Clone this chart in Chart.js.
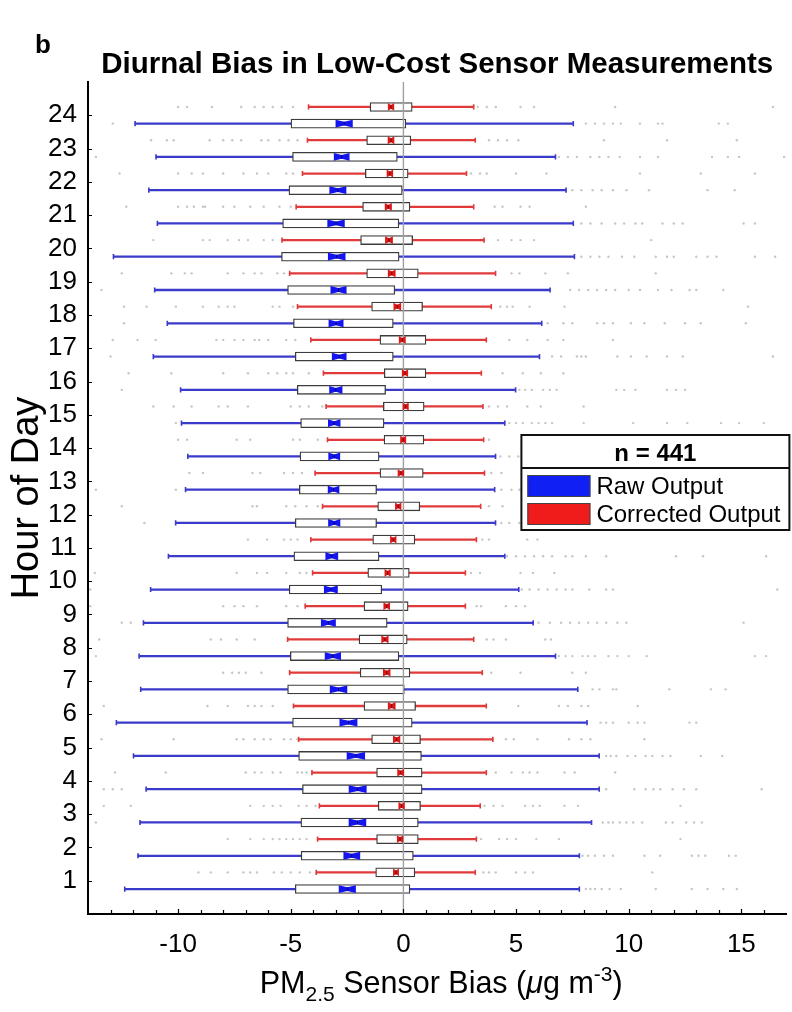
<!DOCTYPE html>
<html>
<head>
<meta charset="utf-8">
<title>Diurnal Bias in Low-Cost Sensor Measurements</title>
<script src="https://cdn.jsdelivr.net/npm/chart.js@4.4.1/dist/chart.umd.min.js"></script>
<style>
  html, body { margin: 0; padding: 0; background: #fff; }
  #wrap { width: 792px; height: 1012px; position: relative; }
</style>
</head>
<body>
<div id="wrap"><canvas id="chart" width="792" height="1012"></canvas></div>
<script>
// Hour of day (1..24)
const hours = [1,2,3,4,5,6,7,8,9,10,11,12,13,14,15,16,17,18,19,20,21,22,23,24];

// Raw sensor output: whisker ends, quartiles and median (µg m-3)
const rawLow    = [-12.37,-11.78,-11.69,-11.42,-11.98,-12.74,-11.66,-11.73,-11.54,-11.22,-10.43,-10.11,-9.67,-9.57,-9.85,-9.89,-11.10,-10.48,-11.04,-12.87,-10.92,-11.30,-10.98,-11.91];
const rawQ1     = [-4.80,-4.54,-4.55,-4.48,-4.65,-4.92,-5.14,-5.02,-5.14,-5.07,-4.86,-4.80,-4.62,-4.59,-4.56,-4.71,-4.80,-4.88,-5.14,-5.41,-5.36,-5.08,-4.92,-4.99];
const rawMedian = [-2.49,-2.29,-2.04,-2.03,-2.11,-2.44,-2.88,-3.13,-3.33,-3.22,-3.18,-3.07,-3.10,-3.07,-3.07,-3.00,-2.85,-2.99,-2.88,-2.96,-2.99,-2.91,-2.74,-2.63];
const rawQ3     = [0.29,0.44,0.66,0.83,0.80,0.39,0.04,-0.20,-0.72,-0.96,-1.08,-1.19,-1.19,-1.08,-0.86,-0.79,-0.45,-0.45,-0.38,-0.19,-0.20,-0.05,-0.27,0.11];
const rawHigh   = [7.81,7.81,8.35,8.69,8.69,8.15,7.74,6.75,5.76,5.12,4.50,4.09,4.05,4.09,4.50,4.98,6.04,6.14,6.51,7.59,7.54,7.22,6.75,7.54];

// Corrected output
const corLow    = [-3.87,-3.81,-3.73,-4.06,-4.65,-4.88,-5.05,-5.14,-4.36,-4.03,-4.11,-3.59,-3.92,-3.37,-3.43,-3.55,-4.11,-4.70,-5.05,-5.39,-4.76,-4.48,-4.26,-4.21];
const corQ1     = [-1.23,-1.19,-1.12,-1.19,-1.41,-1.75,-1.92,-1.97,-1.75,-1.58,-1.36,-1.14,-1.04,-0.86,-0.89,-0.85,-1.04,-1.41,-1.63,-1.90,-1.81,-1.69,-1.63,-1.48];
const corMedian = [-0.33,-0.15,-0.08,-0.12,-0.30,-0.52,-0.74,-0.82,-0.74,-0.70,-0.45,-0.23,-0.11,-0.01,0.10,0.07,-0.05,-0.27,-0.52,-0.64,-0.67,-0.60,-0.55,-0.55];
const corQ3     = [0.51,0.66,0.76,0.83,0.76,0.54,0.29,0.17,0.21,0.26,0.51,0.73,0.88,0.91,0.92,1.00,1.00,0.85,0.66,0.41,0.29,0.21,0.33,0.39];
const corHigh   = [3.19,3.24,3.41,3.68,3.97,3.68,3.50,3.12,2.75,2.75,3.24,3.43,3.60,3.56,3.53,3.46,3.68,3.90,4.09,3.58,3.12,2.80,3.19,3.12];

// Points beyond the whiskers, one list per hour
const rawOutliers = [
  [8.1,8.3,8.5,8.8,9.15,9.65,11.2,12.8,13.5,14.2,14.8],
  [7.95,8.2,8.5,8.9,9.3,10.7,11.4,12.8,13.1,13.4,14.45,14.75],
  [-13.65,8.85,9.1,9.3,9.6,9.9,10.2,10.6,11.65,11.95,12.55,12.9,13.25],
  [-13.3,-12.9,-12.5,9.0,10.25,10.75,11.1,11.4,11.95,12.45,13.0,15.9],
  [9.0,9.2,9.45,9.95,10.3,10.75,11.05,11.5,11.85,13.2,14.15],
  [8.75,9.0,9.3,10.0,10.4,10.7,12.7,13.0],
  [8.4,8.7,9.3,9.45,11.8,13.65,14.3],
  [-13.65,6.9,7.2,7.5,7.95,8.2,8.5,9.1,9.5,10.0,10.8,15.6,16.1],
  [-12.5,-12.1,6.0,6.5,7.0,7.4,7.8,8.2,8.6,9.0,9.5,9.9,15.1],
  [-13.9,5.25,5.6,6.0,6.4,6.8,7.2,7.5,8.25,9.0,9.3,16.6],
  [4.6,5.0,5.4,5.8,6.2,6.6,7.2,7.5,8.1,9.0,12.1,13.3,16.1],
  [-11.5,4.35,4.7,5.15],
  [-13.65,-10.1,4.35,4.8,5.15],
  [4.3,4.7,5.1],
  [-10.1,4.7,5.0,5.3,5.7,6.0,6.3,6.6,8.0,10.2,11.7,12.6,14.1,14.9,16.0],
  [-12.5,5.15,5.4,5.7,6.2,6.5,6.8,9.45,9.8,10.3,11.7,12.1,12.5],
  [-13.0,6.6,7.0,7.7,7.9,8.1,9.5,10.1,10.8,11.7,12.4,16.4],
  [-12.4,6.4,7.1,7.5,8.6,8.9,9.3,10.1,10.7,11.6,12.5,13.2,15.2],
  [-13.4,7.4,7.8,8.2,8.6,9.0,9.4,10.0,10.5,11.3,11.9,12.7,13.0,14.2],
  [7.9,8.3,8.7,9.1,9.7,10.25,11.2,11.7,12.0,13.0,13.5,13.9,15.6,16.5],
  [7.9,8.3,8.8,9.4,9.8,10.3,10.6,11.5,12.0,12.4,15.1,15.6],
  [7.5,7.9,8.4,8.8,9.3,9.9,10.9,13.5,14.7],
  [-13.65,6.9,7.3,7.7,8.3,8.7,9.1,9.6,10.5,11.3,13.7,14.4,14.9,16.9],
  [-12.9,8.1,8.5,8.9,9.3,9.65,10.5,11.3,11.5,14.0,14.4]
];
const corOutliers = [
  [-9.1,-8.55,-7.8,-7.1,-6.8,-6.5,-5.75,-5.4,-5.0,-4.6,-4.15,3.55,3.8,4.1,5.0,5.4,5.75,11.05],
  [-7.8,-6.8,-6.2,-5.8,-5.5,-5.2,-4.9,-4.6,-4.3,3.45,4.25,4.6,5.0,5.9,6.9,12.3],
  [-13.3,-12.1,-6.8,-6.2,-5.8,-5.45,-4.65,-4.3,-3.9,3.6,4.0,4.4,5.4,5.75,6.05,7.15,7.75,12.3],
  [-12.8,-10.55,-7.0,-6.6,-6.3,-5.8,-5.45,-4.7,-4.5,-4.3,4.1,4.8,5.3,5.6,5.95,7.15,7.6,9.4],
  [-13.4,-10.2,-7.4,-7.1,-6.6,-6.2,-5.9,-5.3,-5.0,-4.7,4.55,4.9,5.95,7.35,7.9,8.3,10.7],
  [-13.3,-8.7,-7.8,-6.9,-6.6,-6.3,-5.8,5.1,6.9,7.3,7.9,8.2,10.4],
  [-8.0,-7.6,-7.3,-7.0,-6.3,3.9,5.2,7.5,8.1],
  [-13.5,-8.55,-8.1,-7.4,-6.6,3.7,4.0,4.55,6.3,6.55],
  [-13.9,-8.0,-7.5,-7.1,-6.5,-5.2,-4.7,3.25,3.45,4.55,5.0,5.4],
  [-13.7,-7.4,-6.5,-6.05,-5.2,-4.6,-4.3,3.0,3.4,5.2,5.75,6.7],
  [-6.9,-6.05,-5.3,-5.0,-4.7,3.5,3.8,5.5,5.95],
  [-12.5,-6.7,-6.5,-5.2,-4.8,-4.3,-3.8,3.8,4.4],
  [-9.5,-8.9,-6.7,-6.35,-5.3,-4.9,-4.5,3.9,4.35],
  [-10.0,-9.6,-7.4,-6.8,-4.9,-4.6,-3.8,3.8],
  [-11.1,-10.2,-9.4,-8.2,-7.8,-6.9,-5.0,-4.6,-4.2,-3.6,3.8,4.2,4.6,5.5,6.1,8.0],
  [-12.2,-10.3,-8.0,-6.9,-6.0,-5.6,-5.2,-4.9,-4.2,4.4,5.3,6.1,7.1],
  [-12.9,-11.8,-11.0,-8.3,-8.0,-7.5,-7.1,-6.6,-6.4,-6.0,-5.2,-4.8,4.7,5.5,6.4,7.1,9.3],
  [-12.4,-11.4,-10.1,-8.9,-8.2,-7.8,-7.5,-5.8,-5.5,-4.9,4.3,4.6,4.85,5.6,7.15,15.3],
  [-12.5,-10.3,-9.7,-9.4,-7.8,-7.1,-6.6,-6.3,-5.6,-5.3,4.8,5.15,6.3,7.3,11.2],
  [-11.1,-8.9,-8.6,-7.8,-7.3,-6.9,-6.2,-5.8,4.2,4.8,5.2,5.8,11.0],
  [-12.3,-10.0,-9.6,-9.3,-8.9,-8.8,-8.0,-7.5,-6.8,-6.2,-5.5,-5.0,4.05,4.4,5.2,5.6,8.1],
  [-12.6,-10.0,-9.4,-8.9,-8.0,-7.1,-6.5,-6.0,-5.2,-4.9,3.0,3.4,3.7,5.0,6.35,10.5,13.2,15.6],
  [-11.2,-10.5,-10.2,-8.6,-8.0,-7.6,-7.2,-6.3,-6.0,-5.5,-5.1,-4.7,3.8,4.2,4.6,5.1,8.9,11.7,14.8],
  [-10.0,-9.6,-8.5,-7.2,-6.6,-6.2,-5.8,-5.4,-4.9,3.3,3.7,4.1,5.2,5.8,9.4,16.4]
];

// Axis tick labels
const xTickLabels = [-10, -5, 0, 5, 10, 15];
const yTickLabels = hours;
const sampleCount = 441;

// Drawing style
const FONT = '"Liberation Sans", Arial, Helvetica, sans-serif';
const BOX_H = 9;
const series = [
  { name: 'Raw Output', offset: -0.25, low: rawLow, q1: rawQ1, med: rawMedian, q3: rawQ3, high: rawHigh, out: rawOutliers,
    line: '#3a3acb', fill: '#1414ee', dark: '#00007a', swatch: '#1020f4' },
  { name: 'Corrected Output', offset: 0.25, low: corLow, q1: corQ1, med: corMedian, q3: corQ3, high: corHigh, out: corOutliers,
    line: '#e03a3a', fill: '#dd1818', dark: '#7a0000', swatch: '#f01c1c' }
];

// Build datasets: whiskers and boxes as floating horizontal bars, caps and outliers as points
const datasets = [];
series.forEach(s => {
  datasets.push({
    type: 'scatter', indexAxis: 'x', order: 20,
    data: s.out.flatMap((vals, i) => vals.map(v => ({ x: v, y: hours[i] + s.offset }))),
    pointStyle: 'circle', pointRadius: 1.2, pointBackgroundColor: '#c6c6c6', pointBorderWidth: 0
  });
  datasets.push({
    type: 'bar', order: 10, grouped: false, barThickness: 1.6,
    data: hours.map((h, i) => ({ y: h + s.offset, x: [s.low[i], s.high[i]] })),
    backgroundColor: s.line, borderWidth: 0
  });
  datasets.push({
    type: 'scatter', indexAxis: 'x', order: 9,
    data: hours.flatMap((h, i) => [{ x: s.low[i], y: h + s.offset }, { x: s.high[i], y: h + s.offset }]),
    pointStyle: 'line', pointRotation: 90, pointRadius: 2.6, pointBorderWidth: 1.6, pointBorderColor: s.line
  });
  datasets.push({
    type: 'bar', order: 1, grouped: false, barThickness: BOX_H,
    data: hours.map((h, i) => ({ y: h + s.offset, x: [s.q1[i], s.q3[i]] })),
    backgroundColor: '#ffffff', borderColor: '#3c3c3c', borderWidth: 1.3, borderSkipped: false
  });
});

// Zero line, notched median regions
const notchPlugin = {
  id: 'notches',
  afterDatasetsDraw(chart) {
    const { ctx, chartArea, scales: { x, y } } = chart;
    ctx.save();
    const x0 = x.getPixelForValue(0);
    ctx.strokeStyle = '#a0a0a0';
    ctx.lineWidth = 1.4;
    ctx.beginPath();
    ctx.moveTo(x0, chartArea.top);
    ctx.lineTo(x0, chartArea.bottom);
    ctx.stroke();
    series.forEach(s => {
      hours.forEach((h, i) => {
        const half = 1.57 * (s.q3[i] - s.q1[i]) / Math.sqrt(sampleCount);
        const yc = y.getPixelForValue(h + s.offset);
        const top = yc - BOX_H / 2 + 0.6, bot = yc + BOX_H / 2 - 0.6, pinch = 2;
        const xl = x.getPixelForValue(s.med[i] - half);
        const xm = x.getPixelForValue(s.med[i]);
        const xr = x.getPixelForValue(s.med[i] + half);
        ctx.fillStyle = s.fill;
        ctx.beginPath();
        ctx.moveTo(xl, top);
        ctx.lineTo(xm, top + pinch);
        ctx.lineTo(xr, top);
        ctx.lineTo(xr, bot);
        ctx.lineTo(xm, bot - pinch);
        ctx.lineTo(xl, bot);
        ctx.closePath();
        ctx.fill();
        ctx.strokeStyle = s.dark;
        ctx.lineWidth = 1;
        ctx.beginPath();
        ctx.moveTo(xm, top + pinch);
        ctx.lineTo(xm, bot - pinch);
        ctx.stroke();
      });
    });
    ctx.restore();
  }
};

// Inward tick marks, titles, panel letter and legend box
const decorPlugin = {
  id: 'decor',
  afterDraw(chart) {
    const { ctx, chartArea, scales: { x, y } } = chart;
    ctx.save();
    ctx.strokeStyle = '#000';
    ctx.lineWidth = 1.2;
    ctx.beginPath();
    x.ticks.forEach(t => {
      if (t.value <= x.min || t.value >= x.max) return;
      const px = Math.round(x.getPixelForValue(t.value)) + 0.5;
      const len = xTickLabels.includes(t.value) ? 5 : 4;
      ctx.moveTo(px, chartArea.bottom);
      ctx.lineTo(px, chartArea.bottom - len);
    });
    yTickLabels.forEach(v => {
      const py = Math.round(y.getPixelForValue(v)) + 0.5;
      ctx.moveTo(chartArea.left, py);
      ctx.lineTo(chartArea.left + 4, py);
    });
    ctx.stroke();

    // Title and panel letter
    ctx.fillStyle = '#000';
    ctx.textBaseline = 'alphabetic';
    ctx.textAlign = 'center';
    ctx.font = 'bold 29.5px ' + FONT;
    ctx.fillText('Diurnal Bias in Low-Cost Sensor Measurements', (chartArea.left + chartArea.right) / 2, chartArea.top - 9);
    ctx.textAlign = 'left';
    ctx.font = 'bold 26px ' + FONT;
    ctx.fillText('b', 35, 53);

    // X axis title with subscript and superscript
    const big = '30.5px ' + FONT, small = '21px ' + FONT;
    const parts = [
      { t: 'PM', f: big, dy: 0 },
      { t: '2.5', f: small, dy: 8 },
      { t: ' Sensor Bias (', f: big, dy: 0 },
      { t: 'μ', f: 'italic ' + big, dy: 0 },
      { t: 'g m', f: big, dy: 0 },
      { t: '-3', f: small, dy: -12 },
      { t: ')', f: big, dy: 0 }
    ];
    let total = 0;
    parts.forEach(p => { ctx.font = p.f; p.w = ctx.measureText(p.t).width; total += p.w; });
    let cx = (chartArea.left + chartArea.right) / 2 - total / 2 + 4;
    const base = chartArea.bottom + 79;
    parts.forEach(p => { ctx.font = p.f; ctx.fillText(p.t, cx, base + p.dy); cx += p.w; });

    // Legend
    const W = 268, H = 95;
    const L = chartArea.right + 3 - W, T = chartArea.top + 353;
    ctx.fillStyle = '#fff';
    ctx.fillRect(L, T, W, H);
    ctx.strokeStyle = '#111';
    ctx.lineWidth = 2;
    ctx.strokeRect(L, T, W, H);
    ctx.beginPath();
    ctx.moveTo(L, T + 33);
    ctx.lineTo(L + W, T + 33);
    ctx.stroke();
    ctx.fillStyle = '#000';
    ctx.textAlign = 'center';
    ctx.font = 'bold 24px ' + FONT;
    ctx.fillText('n = ' + sampleCount, L + W / 2, T + 26);
    ctx.textAlign = 'left';
    ctx.textBaseline = 'middle';
    ctx.font = '24px ' + FONT;
    series.forEach((s, k) => {
      const sy = T + 40 + k * 28;
      ctx.fillStyle = s.swatch;
      ctx.fillRect(L + 6, sy, 63, 22);
      ctx.strokeStyle = '#444';
      ctx.lineWidth = 1;
      ctx.strokeRect(L + 6.5, sy + 0.5, 62, 21);
      ctx.fillStyle = '#000';
      ctx.fillText(s.name, L + 75, sy + 12);
    });
    ctx.restore();
  }
};

new Chart(document.getElementById('chart'), {
  type: 'bar',
  data: { datasets },
  options: {
    indexAxis: 'y',
    responsive: false,
    animation: false,
    devicePixelRatio: 1,
    layout: { padding: { top: 82, right: 4, left: 0, bottom: 0 } },
    plugins: { legend: { display: false }, tooltip: { enabled: false }, title: { display: false } },
    scales: {
      x: {
        type: 'linear', position: 'bottom', min: -14, max: 17, offset: false, beginAtZero: false,
        grid: { display: false, drawTicks: false },
        border: { display: true, color: '#000', width: 2 },
        ticks: {
          stepSize: 1, autoSkip: false, maxRotation: 0, padding: 15, color: '#000',
          font: { family: FONT, size: 26 },
          callback: v => xTickLabels.includes(v) ? String(v) : ''
        },
        afterFit: s => { s.height = 98; s.paddingLeft = 0; s.paddingRight = 0; }
      },
      y: {
        type: 'linear', position: 'left', min: 0, max: 25, offset: false,
        grid: { display: false, drawTicks: false },
        border: { display: true, color: '#000', width: 2 },
        ticks: {
          stepSize: 1, autoSkip: false, padding: 11, color: '#000',
          font: { family: FONT, size: 26 },
          callback: v => yTickLabels.includes(v) ? String(v) : ''
        },
        title: { display: true, text: 'Hour of Day', color: '#000', font: { family: FONT, size: 38 }, padding: { top: 5, bottom: 0 } },
        afterFit: s => { s.width = 88; s.paddingTop = 0; s.paddingBottom = 0; }
      }
    }
  },
  plugins: [notchPlugin, decorPlugin]
});
</script>
</body>
</html>
